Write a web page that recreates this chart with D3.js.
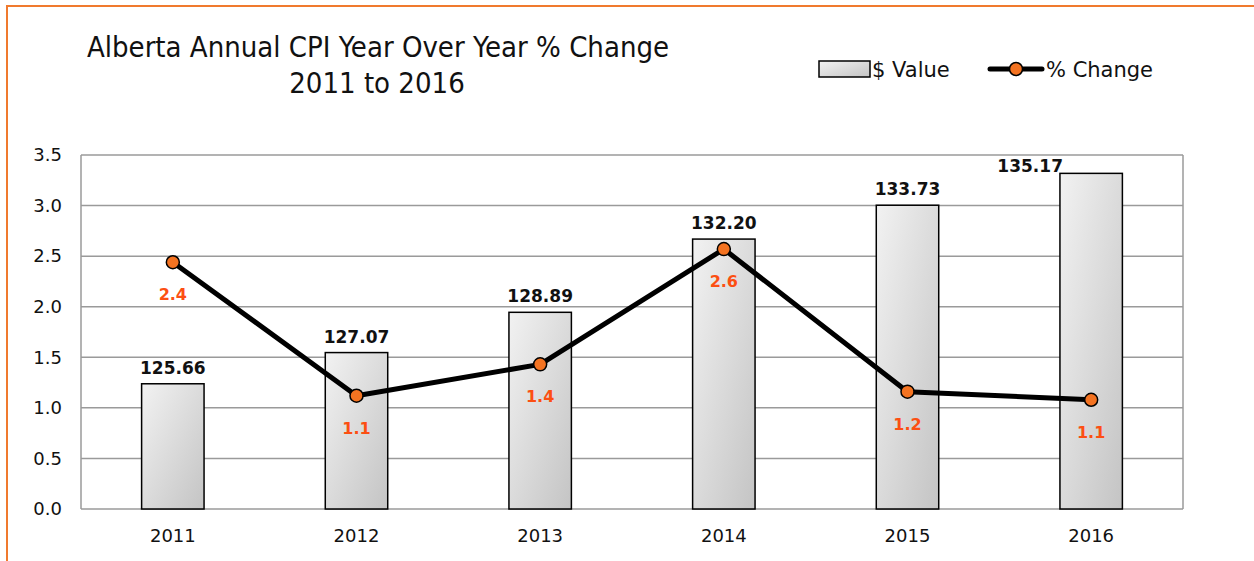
<!DOCTYPE html>
<html>
<head>
<meta charset="utf-8">
<script src="https://cdn.jsdelivr.net/npm/d3@7"></script>
<style>
  body { margin: 0; background: #fff; }
  svg { display: block; }
</style>
</head>
<body>
<svg id="chart"></svg>
<script>
// data
var years = ["2011", "2012", "2013", "2014", "2015", "2016"];
var cpiValue = [125.66, 127.07, 128.89, 132.20, 133.73, 135.17];
var pctChange = [2.44, 1.12, 1.43, 2.57, 1.16, 1.08];
var pctLabels = ["2.4", "1.1", "1.4", "2.6", "1.2", "1.1"];
var yTicks = [0, 0.5, 1, 1.5, 2, 2.5, 3, 3.5];

var width = 1254, height = 561;
var plotLeft = 81, plotRight = 1183, plotTop = 155, plotBottom = 509;

var svg = d3.select("#chart")
    .attr("width", width)
    .attr("height", height);

// orange frame of the chart object
svg.append("path")
    .attr("d", "M7," + height + " L7,6 L" + width + ",6")
    .attr("style", "fill: none; stroke: #f07a2e; stroke-width: 2");

// gradient for bars
var defs = svg.append("defs");
var grad = defs.append("linearGradient")
    .attr("id", "barGrad")
    .attr("x1", "0%").attr("y1", "0%")
    .attr("x2", "100%").attr("y2", "100%");
grad.append("stop").attr("offset", "0%").attr("stop-color", "#f2f2f2");
grad.append("stop").attr("offset", "100%").attr("stop-color", "#c4c4c4");

// scales
var x = d3.scaleBand().domain(years).range([plotLeft, plotRight]).paddingInner(0.66).paddingOuter(0.33);
var y = d3.scaleLinear().domain([0, 3.5]).range([plotBottom, plotTop]);
var y2 = d3.scaleLinear().domain([120, 136]).range([plotBottom, plotTop]);

// gridlines
svg.append("g")
    .selectAll("line")
    .data(yTicks)
    .enter().append("line")
    .attr("x1", plotLeft).attr("x2", plotRight)
    .attr("y1", function(d) { return y(d); })
    .attr("y2", function(d) { return y(d); })
    .attr("style", "stroke: #9a9a9a; stroke-width: 1.5");

// plot area sides
svg.append("line")
    .attr("x1", plotLeft).attr("x2", plotLeft).attr("y1", plotTop).attr("y2", plotBottom)
    .attr("style", "stroke: #9a9a9a; stroke-width: 1.5");
svg.append("line")
    .attr("x1", plotRight).attr("x2", plotRight).attr("y1", plotTop).attr("y2", plotBottom)
    .attr("style", "stroke: #9a9a9a; stroke-width: 1.5");

// y axis labels
var yAxis = svg.append("g")
    .attr("transform", "translate(" + plotLeft + ",0)")
    .call(d3.axisLeft(y).tickValues(yTicks).tickFormat(d3.format(".1f")).tickSize(0).tickPadding(19));
yAxis.select(".domain").remove();
yAxis.selectAll("text")
    .attr("style", "font-family: 'DejaVu Sans', sans-serif; font-size: 18px; fill: #111");

// x axis labels
var xAxis = svg.append("g")
    .attr("transform", "translate(0," + plotBottom + ")")
    .call(d3.axisBottom(x).tickSize(0).tickPadding(20));
xAxis.select(".domain").remove();
xAxis.selectAll("text")
    .attr("style", "font-family: 'DejaVu Sans', sans-serif; font-size: 18px; fill: #111");

// bars
svg.selectAll(".bar")
    .data(cpiValue)
    .enter().append("rect")
    .attr("class", "bar")
    .attr("x", function(d, i) { return x(years[i]); })
    .attr("y", function(d) { return y2(d); })
    .attr("width", x.bandwidth())
    .attr("height", function(d) { return plotBottom - y2(d); })
    .attr("style", "fill: url(#barGrad); stroke: #000; stroke-width: 1.5");

// bar labels (the top one was nudged left in the original)
svg.selectAll(".barlabel")
    .data(cpiValue)
    .enter().append("text")
    .attr("class", "barlabel")
    .attr("x", function(d, i) {
        var cx = x(years[i]) + x.bandwidth() / 2;
        return (y2(d) - 24 < plotTop) ? cx - 61 : cx;
    })
    .attr("y", function(d) {
        return (y2(d) - 24 < plotTop) ? y2(d) - 1 : y2(d) - 10;
    })
    .attr("text-anchor", "middle")
    .attr("style", "font-family: 'DejaVu Sans', sans-serif; font-size: 17px; font-weight: bold; fill: #111")
    .text(function(d) { return d.toFixed(2); });

// line
var valueline = d3.line()
    .x(function(d, i) { return x(years[i]) + x.bandwidth() / 2; })
    .y(function(d) { return y(d); });

svg.append("path")
    .data([pctChange])
    .attr("d", valueline)
    .attr("style", "fill: none; stroke: #000; stroke-width: 5; stroke-linejoin: round");

svg.selectAll(".dot")
    .data(pctChange)
    .enter().append("circle")
    .attr("class", "dot")
    .attr("r", 6.5)
    .attr("cx", function(d, i) { return x(years[i]) + x.bandwidth() / 2; })
    .attr("cy", function(d) { return y(d); })
    .attr("style", "fill: #f47321; stroke: #000; stroke-width: 1.5");

svg.selectAll(".pctlabel")
    .data(pctChange)
    .enter().append("text")
    .attr("class", "pctlabel")
    .attr("x", function(d, i) { return x(years[i]) + x.bandwidth() / 2; })
    .attr("y", function(d) { return y(d) + 38; })
    .attr("text-anchor", "middle")
    .attr("style", "font-family: 'DejaVu Sans', sans-serif; font-size: 16px; font-weight: bold; fill: #fc4f12")
    .text(function(d, i) { return pctLabels[i]; });

// title
var title = svg.append("text")
    .attr("text-anchor", "middle")
    .attr("style", "font-family: 'DejaVu Sans Condensed', 'DejaVu Sans', sans-serif; font-size: 29px; fill: #111");
title.append("tspan").attr("x", 378).attr("y", 57).text("Alberta Annual CPI Year Over Year % Change");
title.append("tspan").attr("x", 377).attr("y", 93).text("2011 to 2016");

// legend
var legend = svg.append("g");
legend.append("rect")
    .attr("x", 819).attr("y", 61).attr("width", 51).attr("height", 16)
    .attr("style", "fill: url(#barGrad); stroke: #000; stroke-width: 1.5");
legend.append("text")
    .attr("x", 872).attr("y", 77)
    .attr("style", "font-family: 'DejaVu Sans', sans-serif; font-size: 21px; fill: #111")
    .text("$ Value");
legend.append("line")
    .attr("x1", 990).attr("x2", 1042).attr("y1", 69).attr("y2", 69)
    .attr("style", "stroke: #000; stroke-width: 5; stroke-linecap: round");
legend.append("circle")
    .attr("cx", 1016).attr("cy", 69).attr("r", 6.5)
    .attr("style", "fill: #f47321; stroke: #000; stroke-width: 1.5");
legend.append("text")
    .attr("x", 1046).attr("y", 77)
    .attr("style", "font-family: 'DejaVu Sans', sans-serif; font-size: 21px; fill: #111")
    .text("% Change");
</script>
</body>
</html>
